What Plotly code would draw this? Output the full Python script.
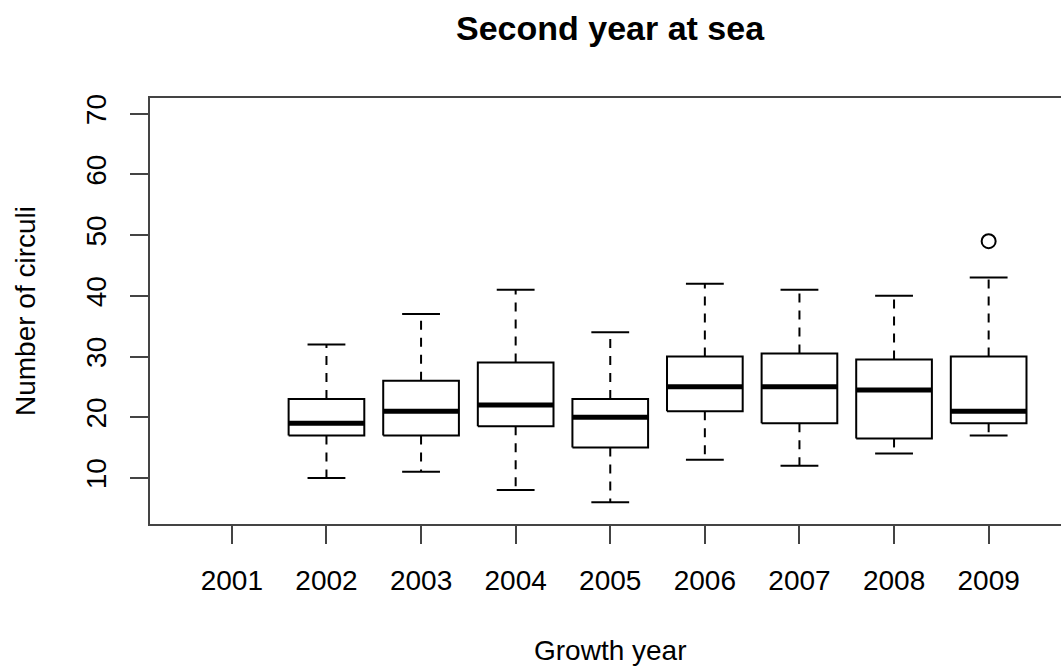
import plotly.graph_objects as go

# box statistics (2001 has no data)
years = ["2001", "2002", "2003", "2004", "2005", "2006", "2007", "2008", "2009"]
lower = [None, 10, 11, 8, 6, 13, 12, 14, 17]
q1 = [None, 17, 17, 18.5, 15, 21, 19, 16.5, 19]
median = [None, 19, 21, 22, 20, 25, 25, 24.5, 21]
q3 = [None, 23, 26, 29, 23, 30, 30.5, 29.5, 30]
upper = [None, 32, 37, 41, 34, 42, 41, 40, 43]
outlier_year = ["2009"]
outlier_val = [49]

FONT = "Liberation Sans, Arial, Helvetica, sans-serif"
half = 0.4   # half box width (boxwex 0.8)
cap = 0.2    # half staple width

box_x, box_y = [], []
wh_x, wh_y = [], []
cap_x, cap_y = [], []
med_x, med_y = [], []
for i, yr in enumerate(years):
    if median[i] is None:
        continue
    x = i + 1
    box_x += [x - half, x + half, x + half, x - half, x - half, None]
    box_y += [q1[i], q1[i], q3[i], q3[i], q1[i], None]
    wh_x += [x, x, None, x, x, None]
    wh_y += [q3[i], upper[i], None, q1[i], lower[i], None]
    cap_x += [x - cap, x + cap, None, x - cap, x + cap, None]
    cap_y += [upper[i], upper[i], None, lower[i], lower[i], None]
    med_x += [x - half, x + half, None]
    med_y += [median[i], median[i], None]

out_x = [years.index(y) + 1 for y in outlier_year]

fig = go.Figure()
fig.add_trace(go.Scatter(x=wh_x, y=wh_y, mode="lines",
                         line=dict(color="black", width=2, dash="9px,8px")))
fig.add_trace(go.Scatter(x=cap_x, y=cap_y, mode="lines",
                         line=dict(color="black", width=2)))
fig.add_trace(go.Scatter(x=box_x, y=box_y, mode="lines", fill="toself",
                         fillcolor="white", line=dict(color="black", width=2)))
fig.add_trace(go.Scatter(x=med_x, y=med_y, mode="lines",
                         line=dict(color="black", width=5)))
fig.add_trace(go.Scatter(x=out_x, y=outlier_val, mode="markers",
                         marker=dict(symbol="circle-open", size=14,
                                     color="black", line=dict(width=2))))

# the original is cropped on the right: the plot box runs past the window edge
fig.update_layout(
    width=1072, height=669,
    margin=dict(l=150, r=0, t=98, b=145),
    plot_bgcolor="white", paper_bgcolor="white",
    showlegend=False,
    font=dict(family=FONT, size=28, color="black"),
)
fig.update_xaxes(
    range=[0.1346, 9.86],
    tickvals=list(range(1, len(years) + 1)), ticktext=years,
    showgrid=False, zeroline=False,
    showline=True, mirror=True, linecolor="#444", linewidth=2,
    ticks="outside", ticklen=18, tickwidth=2, tickcolor="#444",
    ticklabelstandoff=12,
)
fig.update_yaxes(
    range=[2.4, 72.6],
    tickvals=[10, 20, 30, 40, 50, 60, 70],
    tickangle=-90,
    showgrid=False, zeroline=False,
    showline=True, mirror=True, linecolor="#444", linewidth=2,
    ticks="outside", ticklen=18, tickwidth=2, tickcolor="#444",
    ticklabelstandoff=13,
)

fig.add_annotation(text="<b>Second year at sea</b>", x=0.5, y=1, xref="paper", yref="paper",
                   xanchor="center", yanchor="middle", yshift=70, showarrow=False,
                   font=dict(size=34, family=FONT))
fig.add_annotation(text="Growth year", x=0.5, y=0, xref="paper", yref="paper",
                   xanchor="center", yanchor="middle", yshift=-126, showarrow=False,
                   font=dict(size=28, family=FONT))
fig.add_annotation(text="Number of circuli", x=0, y=0.5, xref="paper", yref="paper",
                   xanchor="center", yanchor="middle", xshift=-125, textangle=-90,
                   showarrow=False, font=dict(size=28, family=FONT))

fig.write_html("out.html", config={"displayModeBar": False},
               post_script="document.body.style.margin='0';"
                           "document.body.style.overflow='hidden';")
